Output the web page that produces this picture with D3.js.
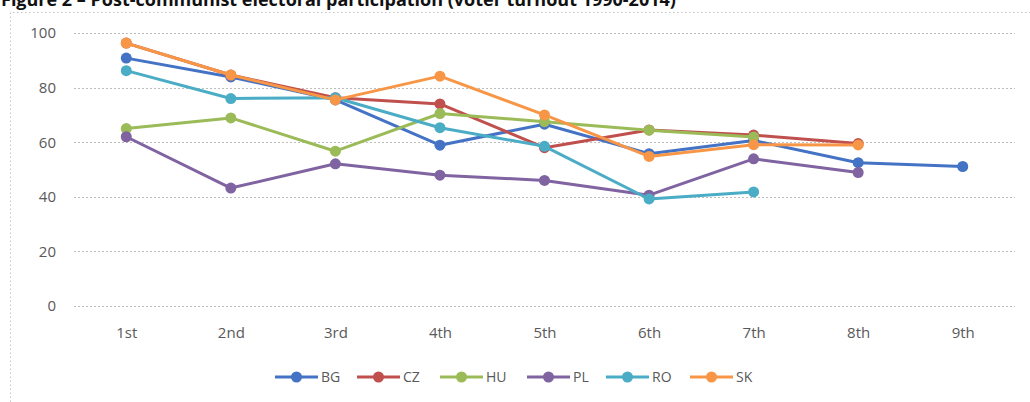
<!DOCTYPE html>
<html>
<head>
<meta charset="utf-8">
<script src="https://cdn.jsdelivr.net/npm/d3@7"></script>
<style>
  body { margin: 0; background: #fff; }
  svg { display: block; font-family: "Open Sans", "DejaVu Sans", sans-serif; }
</style>
</head>
<body>
<div id="chart"></div>
<script>
const ROUNDS = ["1st", "2nd", "3rd", "4th", "5th", "6th", "7th", "8th", "9th"];
const Y_TICKS = [0, 20, 40, 60, 80, 100];

const BG = [90.8, 83.9, 75.5, 58.9, 66.6, 55.8, 60.6, 52.5, 51.1];
const CZ = [96.3, 84.6, 76.3, 74.0, 58.0, 64.5, 62.6, 59.5, null];
const HU = [65.0, 68.9, 56.7, 70.5, 67.5, 64.4, 61.9, null, null];
const PL = [62.0, 43.2, 52.1, 47.9, 46.0, 40.6, 53.9, 48.9, null];
const RO = [86.2, 76.0, 76.3, 65.3, 58.5, 39.2, 41.8, null, null];
const SK = [96.3, 84.6, 75.5, 84.2, 70.0, 54.8, 59.1, 59.0, null];

const seriesNames = ["BG", "CZ", "HU", "PL", "RO", "SK"];
const seriesValues = [BG, CZ, HU, PL, RO, SK];
const seriesColors = ["#4472C4", "#C0504D", "#9BBB59", "#8064A2", "#4BACC6", "#F79646"];

const W = 1030, H = 402;
const plot = { left: 74, right: 1015, top: 33, bottom: 306 };

const svg = d3.select("#chart").append("svg")
  .attr("width", W)
  .attr("height", H);

// title, cut off at the top like the source image
svg.append("text")
  .attr("x", 1)
  .attr("y", 6)
  .text("Figure 2 \u2013 Post-communist electoral participation (voter turnout 1990-2014)")
  .style("font-family", "'Open Sans', sans-serif")
  .style("font-weight", "bold")
  .style("font-size", "18px")
  .style("fill", "#111");

// chart area border (dotted)
svg.append("path")
  .attr("d", `M10.5,${H} V12.5 H${W}`)
  .attr("fill", "none")
  .attr("stroke", "#c4c4c4")
  .attr("stroke-dasharray", "1.5,2.5");

const x = d3.scalePoint()
  .domain(ROUNDS)
  .range([plot.left, plot.right])
  .padding(0.5);

const y = d3.scaleLinear()
  .domain([0, 100])
  .range([plot.bottom, plot.top]);

// gridlines
svg.append("g")
  .selectAll("line")
  .data(Y_TICKS)
  .enter()
  .append("line")
  .attr("x1", plot.left)
  .attr("x2", plot.right)
  .attr("y1", d => Math.round(y(d)) + 0.5)
  .attr("y2", d => Math.round(y(d)) + 0.5)
  .attr("stroke", "#bdbdbd")
  .attr("stroke-dasharray", "2,2");

// y axis labels
const yAxis = svg.append("g")
  .attr("transform", `translate(${plot.left - 18},0)`)
  .call(d3.axisLeft(y).tickValues(Y_TICKS).tickSize(0).tickPadding(0));
yAxis.select(".domain").remove();
yAxis.selectAll("text")
  .style("font-family", "'Open Sans', sans-serif")
  .style("font-size", "15px")
  .style("fill", "#595959");

// x axis labels
const xAxis = svg.append("g")
  .attr("transform", `translate(0,${plot.bottom + 21})`)
  .call(d3.axisBottom(x).tickSize(0).tickPadding(0));
xAxis.select(".domain").remove();
xAxis.selectAll("text")
  .attr("dy", "0.71em")
  .style("font-family", "'Open Sans', sans-serif")
  .style("font-size", "15px")
  .style("fill", "#595959");

const data = seriesNames.map((name, i) => ({
  name,
  color: seriesColors[i],
  values: seriesValues[i]
    .map((v, j) => ({ x: ROUNDS[j], y: v }))
    .filter(d => d.y !== null)
}));

const line = d3.line()
  .x(d => x(d.x))
  .y(d => y(d.y));

const groups = svg.selectAll("mySeries")
  .data(data)
  .enter()
  .append("g");

groups.append("path")
  .attr("d", d => line(d.values))
  .attr("stroke", d => d.color)
  .attr("stroke-width", 3)
  .attr("fill", "none")
  .attr("stroke-linejoin", "round");

groups.selectAll("circle")
  .data(d => d.values.map(v => ({ ...v, color: d.color })))
  .enter()
  .append("circle")
  .attr("cx", d => x(d.x))
  .attr("cy", d => y(d.y))
  .attr("r", 5.5)
  .attr("fill", d => d.color);

// legend
const legendX = [275, 357, 440, 527, 606, 690];
const legend = svg.selectAll("myLegend")
  .data(data)
  .enter()
  .append("g")
  .attr("transform", (d, i) => `translate(${legendX[i]},377)`);

legend.append("line")
  .attr("x1", 0)
  .attr("x2", 43)
  .attr("stroke", d => d.color)
  .attr("stroke-width", 3);

legend.append("circle")
  .attr("cx", 21.5)
  .attr("r", 5.5)
  .attr("fill", d => d.color);

legend.append("text")
  .attr("x", 46)
  .attr("dy", "0.36em")
  .text(d => d.name)
  .style("font-family", "'Open Sans', sans-serif")
  .style("font-size", "14px")
  .style("fill", "#595959");
</script>
</body>
</html>
